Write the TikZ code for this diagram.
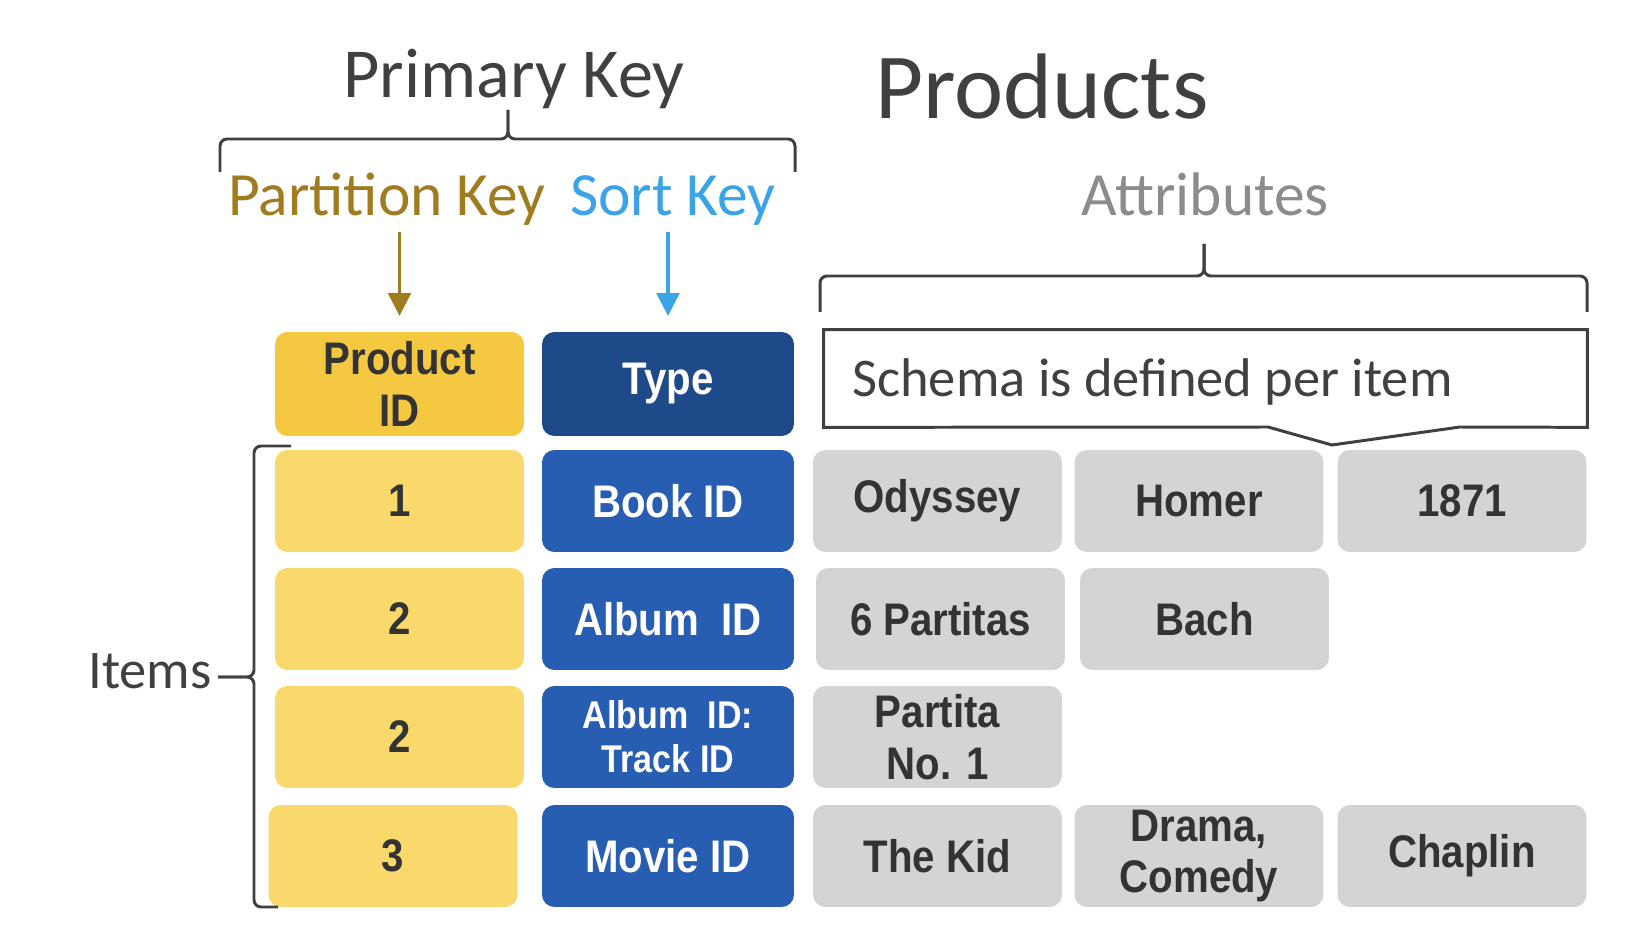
\documentclass[tikz,border=0pt]{standalone}
\usepackage{fontspec}
\usepackage{tikz}
\usetikzlibrary{
        positioning,
        arrows.meta
    }
\setmainfont{Carlito}
\newfontfamily\cellfont[FakeStretch=0.88]{Liberation Sans}

\definecolor{inkgray}{RGB}{64,64,64}
\definecolor{goldkey}{RGB}{160,124,32}
\definecolor{bluekey}{RGB}{58,164,230}
\definecolor{attrgray}{RGB}{140,140,140}
\definecolor{headyellow}{RGB}{245,200,66}
\definecolor{cellyellow}{RGB}{249,217,108}
\definecolor{headblue}{RGB}{31,74,138}
\definecolor{cellblue}{RGB}{40,94,178}
\definecolor{cellgray}{RGB}{212,212,212}
\definecolor{darktext}{RGB}{51,51,51}

\begin{document}
\begin{tikzpicture}
[x=0.02cm, y=-0.02cm,
baseshape/.style={rectangle, rounded corners=7pt, minimum width=4.98cm, minimum height=2.04cm, inner sep=0pt, align=center, font=\cellfont\bfseries\fontsize{26}{29.5}\selectfont},
keyhead/.style={baseshape, fill=headyellow, text=darktext, minimum height=2.08cm},
keycell/.style={baseshape, fill=cellyellow, text=darktext},
typehead/.style={baseshape, fill=headblue, text=white, minimum width=5.04cm, minimum height=2.08cm},
typecell/.style={baseshape, fill=cellblue, text=white, minimum width=5.04cm},
attrcell/.style={baseshape, fill=cellgray, text=darktext},
heading/.style={inner sep=0pt, anchor=base},
brace/.style={line width=1.7pt, draw=inkgray, rounded corners=4pt},
keyarrow/.style={line width=1.8pt, -{Triangle[width=13pt,length=13pt]}},
callout/.style={line width=1.7pt, draw=inkgray, line join=miter},]

\useasboundingbox (0,0) rectangle (1626,942);

% titles
\node (primary) [heading, text=inkgray, font=\fontsize{40}{44}\selectfont] at (514,98) {Primary Key};
\node (products) [heading, text=inkgray, font=\fontsize{53}{58}\selectfont] at (1042,119) {Products};
\node (pkey) [heading, text=goldkey, font=\fontsize{35}{40}\selectfont] at (387,216) {Partition Key};
\node (skey) [heading, text=bluekey, font=\fontsize{35}{40}\selectfont] at (673,216) {Sort Key};
\node (attrs) [heading, text=attrgray, font=\fontsize{35}{40}\selectfont] at (1205,216) {Attributes};
\node (items) [heading, anchor=base east, text=inkgray, font=\fontsize{31}{36}\selectfont] at (212,688) {Items};

% header row
\node (pid0) [keyhead] at (399.5,384) {Product\\ID};
\node (type0) [typehead] at (668,384) {Type};
\node (callbox) [minimum width=15.26cm, minimum height=1.94cm, inner sep=0pt] at (1205.5,378.5) {};
\draw [callout] (callbox.north west) -- (callbox.north east) -- (callbox.south east) -- (1460,427) -- (1332,445) -- (1268,427) -- (callbox.south west) -- cycle;
\node (schema) [heading, anchor=base west, text=inkgray, font=\fontsize{31}{36}\selectfont] at (852,397) {Schema is defined per item};

% items
\node (pid1) [keycell] at (399.5,501) {1};
\node (type1) [typecell] at (668,501) {Book ID};
\node (attr1a) [attrcell] at (937.5,501) {Odyssey};
\node (attr1b) [attrcell] at (1199,501) {Homer};
\node (attr1c) [attrcell] at (1462,501) {1871};

\node (pid2) [keycell] at (399.5,619) {2};
\node (type2) [typecell] at (668,619) {Album\ \ ID};
\node (attr2a) [attrcell] at (940.5,619) {6 Partitas};
\node (attr2b) [attrcell] at (1204.5,619) {Bach};

\node (pid3) [keycell] at (399.5,737) {2};
\node (type3) [typecell, font=\cellfont\bfseries\fontsize{22}{25}\selectfont] at (668,737) {Album\ \ ID:\\Track ID};
\node (attr3a) [attrcell] at (937.5,737) {Partita\\No. 1};

\node (pid4) [keycell] at (393,856) {3};
\node (type4) [typecell] at (668,856) {Movie ID};
\node (attr4a) [attrcell] at (937.5,856) {The Kid};
\node (attr4b) [attrcell] at (1199,856) {Drama,\\Comedy};
\node (attr4c) [attrcell] at (1462,856) {Chaplin};

% braces
\draw [brace] (220,172) |- (508,139) -- (508,110);
\draw [brace] (795,172) |- (508,139) -- (508,110);
\draw [brace] (820,312) |- (1204,276) -- (1204,244);
\draw [brace] (1587,312) |- (1204,276) -- (1204,244);
\draw [brace] (291,446) -| (254,677) -- (218,677);
\draw [brace] (278,907) -| (254,677) -- (218,677);

% arrows
\draw [keyarrow, goldkey, shorten <=3pt, shorten >=9pt] (pkey.south -| pid0.north) -- (pid0.north);
\draw [keyarrow, bluekey, shorten <=3pt, shorten >=9pt] (skey.south -| type0.north) -- (type0.north);

\end{tikzpicture}
\end{document}
